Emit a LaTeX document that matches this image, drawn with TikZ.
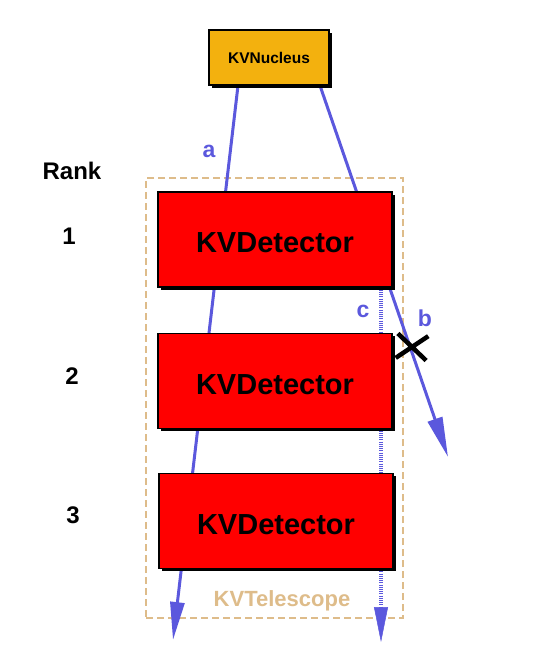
\documentclass[tikz,border=0pt]{standalone}
\usepackage{fontspec}
\setmainfont{Liberation Sans}
\usepackage{xcolor}
\usetikzlibrary{shapes,arrows.meta,positioning,shadows,backgrounds}

\definecolor{kvblue}{RGB}{91,88,221}
\definecolor{kvorange}{RGB}{243,177,14}
\definecolor{kvtan}{RGB}{222,188,138}

\begin{document}
\begin{tikzpicture}[
    x=1pt, y=-1pt,
    node distance=45pt,
    det/.style={rectangle, draw, line width=1.2pt, fill=red, minimum width=234pt, minimum height=95pt, inner sep=0pt,
        text height=27pt, font=\fontsize{29}{30}\selectfont\bfseries,
        drop shadow={shadow xshift=3pt, shadow yshift=-3pt, fill=black, opacity=1}},
    nucl/.style={rectangle, draw, line width=1.2pt, fill=kvorange, minimum width=120pt, minimum height=55pt, inner sep=0pt,
        font=\fontsize{15.5}{16}\selectfont\bfseries,
        drop shadow={shadow xshift=3pt, shadow yshift=-3pt, fill=black, opacity=1}},
    rank/.style={font=\fontsize{24}{25}\selectfont\bfseries},
    lbl/.style={font=\fontsize{23}{24}\selectfont\bfseries, text=kvblue},
    track/.style={kvblue, line width=3pt, -{Triangle[length=38pt, width=14pt]}}
]
\useasboundingbox (0,0) rectangle (537,656);

% Nucleus and detectors
\node[nucl] (nucleus) at (269,57.5) {KVNucleus};
\node[det] (det1) at (275,239.5) {KVDetector};
\node[det, below=45pt of det1] (det2) {KVDetector};
\node[det, below=44pt of det2, xshift=1pt] (det3) {KVDetector};

% Rank column
\node[rank] (rank) at (72,171) {Rank};
\node[rank] (r1) at (69,236) {1};
\node[rank] (r2) at (72,376) {2};
\node[rank] (r3) at (73,515) {3};

% Track ends
\coordinate (aend) at (173,640);
\coordinate (bend) at (448,457);
\coordinate (cend) at (381,642);

\begin{scope}[on background layer]
% Telescope frame
\node[draw=kvtan, line width=2pt, dash pattern=on 7pt off 4pt, minimum width=257pt, minimum height=440pt] (tel) at (274.5,398) {};
% Tracks
\draw[track] ([xshift=-31pt]nucleus.south) -- (aend);
\draw[track, -{Triangle[length=40pt, width=15pt]}] ([xshift=51pt]nucleus.south) -- (bend);
\draw[kvblue, line width=3.5pt, dash pattern=on 1pt off 1.2pt, -{Triangle[length=35pt, width=14pt, fill=kvblue, line width=0.5pt]}] ([xshift=106pt]det1.south) -- (cend);
\end{scope}

\node[text=kvtan, font=\fontsize{22}{23}\selectfont\bfseries] (tellbl) at (282,601) {KVTelescope};

% Track labels
\node[lbl] (la) at (209,151) {a};
\node[lbl] (lb) at (425,318) {b};
\node[lbl] (lc) at (363,311) {c};

% Stopped track
\node[cross out, draw, line width=4.5pt, minimum width=26pt, minimum height=20pt, inner sep=0pt, rotate=-5] (stop) at (412,347) {};

\end{tikzpicture}
\end{document}
